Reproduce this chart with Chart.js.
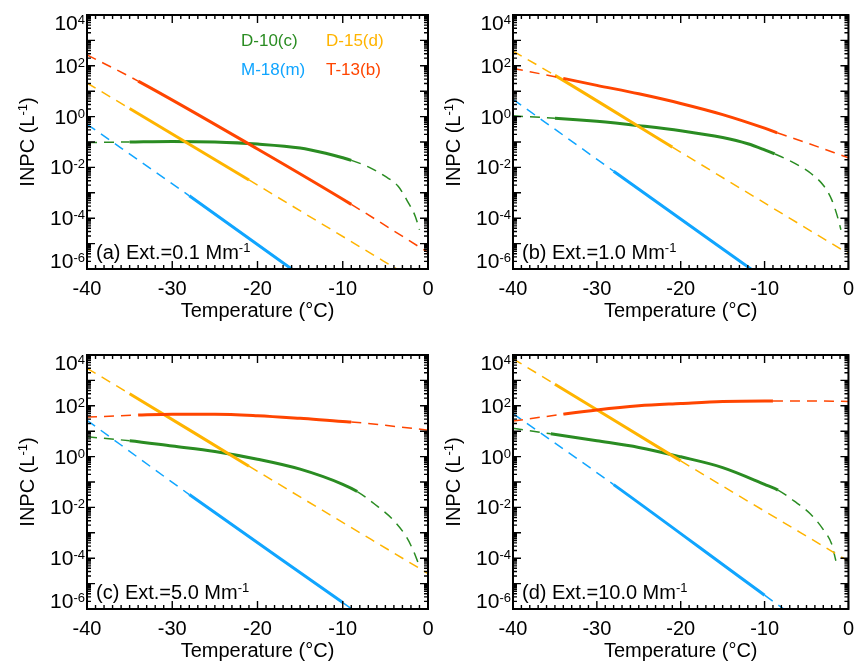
<!DOCTYPE html>
<html><head><meta charset="utf-8">
<script src="https://cdn.jsdelivr.net/npm/chart.js@4.4.1/dist/chart.umd.min.js"></script>
<style>
html,body{margin:0;padding:0;background:#fff;overflow:hidden;width:862px;height:662px;}
canvas{position:absolute;left:0;top:0;}
</style></head><body>
<canvas id="ca" width="862" height="662"></canvas>
<canvas id="cb" width="862" height="662"></canvas>
<canvas id="cc" width="862" height="662"></canvas>
<canvas id="cd" width="862" height="662"></canvas>
<script>
// ---------- data ----------
const xTickValues = [-40, -30, -20, -10, 0];
const yTickExponents = [4, 2, 0, -2, -4, -6];
const seriesNames = ['T-13(b)', 'D-15(d)', 'M-18(m)', 'D-10(c)'];
const panelLabels = ['(a) Ext.=0.1 Mm', '(b) Ext.=1.0 Mm', '(c) Ext.=5.0 Mm', '(d) Ext.=10.0 Mm'];

// Panel (a)  Ext = 0.1 Mm-1
const tA_T13 = [-40, -34, -20, -9, 0];
const nA_T13 = [270, 25, 0.053, 3.5e-4, 4.5e-6];
const sA_T13 = [-34, -9];
const tA_D15 = [-40, -35, -21, 0];
const nA_D15 = [21, 2.1, 3.2e-3, 1.8e-7];
const sA_D15 = [-35, -21];
const tA_M18 = [-40, -28, -16, -15];
const nA_M18 = [0.5, 7.6e-4, 1.0e-6, 5.8e-7];
const sA_M18 = [-28, -15];
const tA_D10 = [-40, -35, -30, -25, -20, -15, -12, -10, -9, -7, -5, -3.5, -2.3, -1.5, -1];
const nA_D10 = [0.095, 0.1, 0.105, 0.1, 0.083, 0.058, 0.036, 0.024, 0.019, 0.0105, 4.4e-3, 1.8e-3, 4.0e-4, 1.2e-4, 3.5e-5];
const sA_D10 = [-35, -9];

// Panel (b)  Ext = 1.0 Mm-1
const tB_T13 = [-40, -34, -30, -25, -20, -15, -10, -8.5, -5, 0];
const nB_T13 = [79, 32, 17, 7.9, 3.3, 1.2, 0.35, 0.23, 0.093, 0.024];
const sB_T13 = [-34, -8.5];
const tB_D15 = [-40, -35, -21, 0];
const nB_D15 = [380, 42, 0.063, 4.0e-6];
const sB_D15 = [-35, -21];
const tB_M18 = [-40, -28, -11];
const nB_M18 = [4.8, 7.1e-3, 7.1e-7];
const sB_M18 = [-28, -11];
const tB_D10 = [-40, -35, -30, -25, -20, -15, -12, -10, -8.8, -6.5, -4.5, -2.9, -2, -1.2, -0.9];
const nB_D10 = [1.07, 0.87, 0.65, 0.44, 0.28, 0.15, 0.085, 0.049, 0.034, 0.015, 5.9e-3, 1.8e-3, 5.4e-4, 8.7e-5, 3.5e-5];
const sB_D10 = [-35, -8.8];

// Panel (c)  Ext = 5.0 Mm-1
const tC_T13 = [-40, -34, -30, -25, -20, -15, -10, -9, -5, 0];
const nC_T13 = [36, 43, 47, 47, 41, 32, 24, 23, 17, 11];
const sC_T13 = [-34, -9];
const tC_D15 = [-40, -35, -21, 0];
const nC_D15 = [3000, 300, 0.42, 2.5e-5];
const sC_D15 = [-35, -21];
const tC_M18 = [-40, -28, -10, -8];
const nC_M18 = [27, 0.032, 1.8e-6, 6.0e-7];
const sC_M18 = [-28, -10];
const tC_D10 = [-40, -35, -30, -25, -20, -15, -10, -8.3, -6.2, -4, -2.5, -1.7, -1.1];
const nC_D10 = [6.0, 4.2, 2.6, 1.6, 0.79, 0.32, 0.081, 0.042, 0.013, 3.0e-3, 6.6e-4, 1.9e-4, 5.9e-5];
const sC_D10 = [-35, -8.3];

// Panel (d)  Ext = 10.0 Mm-1
const tD_T13 = [-40, -34, -30, -25, -20, -15, -10, -9, -5, 0];
const nD_T13 = [25, 47, 69, 100, 123, 148, 155, 155, 155, 148];
const sD_T13 = [-34, -9];
const tD_D15 = [-40, -35, -20, 0];
const nD_D15 = [7100, 710, 0.68, 7.6e-5];
const sD_D15 = [-35, -20];
const tD_M18 = [-40, -28, -10, -7.5];
const nD_M18 = [49, 0.079, 3.5e-6, 8.9e-7];
const sD_M18 = [-28, -10];
const tD_D10 = [-40, -35.5, -30, -25, -20, -15, -10, -8.4, -6.5, -4.5, -2.9, -2, -1.5];
const nD_D10 = [13, 7.9, 4.2, 2.3, 0.98, 0.37, 0.081, 0.048, 0.018, 5.4e-3, 1.2e-3, 3.6e-4, 7.9e-5];
const sD_D10 = [-35.5, -8.4];

// ---------- styling ----------
const COLORS = {'T-13(b)': '#FF4500', 'D-15(d)': '#FFB400', 'M-18(m)': '#10A5FF', 'D-10(c)': '#2A8C22'};
const FAMILY = '"Liberation Sans", Arial, Helvetica, sans-serif';

function fontStr(size) { return size + 'px ' + FAMILY; }

function drawParts(ctx, x, baseline, parts, align, size, supSize, rise) {
  let total = 0;
  const widths = parts.map(p => {
    ctx.font = fontStr(p.sup ? supSize : size);
    const w = ctx.measureText(p.t).width;
    total += w;
    return w;
  });
  let cx = align === 'right' ? x - total : (align === 'center' ? x - total / 2 : x);
  ctx.textAlign = 'left';
  ctx.textBaseline = 'alphabetic';
  parts.forEach((p, i) => {
    ctx.font = fontStr(p.sup ? supSize : size);
    ctx.fillText(p.t, cx, p.sup ? baseline - rise : baseline);
    cx += widths[i];
  });
}

const decoPlugin = {
  id: 'deco',
  afterDraw(chart, args, opts) {
    const ctx = chart.ctx, ca = chart.chartArea;
    const xs = chart.scales.x, ys = chart.scales.y;
    ctx.save();
    ctx.strokeStyle = '#000';
    ctx.fillStyle = '#000';
    // inward ticks
    ctx.lineWidth = 1.4;
    ctx.beginPath();
    for (let t = -40; t <= 0; t++) {
      const px = xs.getPixelForValue(t);
      const len = (t % 10 === 0) ? 8 : 4;
      ctx.moveTo(px, ca.bottom); ctx.lineTo(px, ca.bottom - len);
      ctx.moveTo(px, ca.top); ctx.lineTo(px, ca.top + len);
    }
    for (let e = -6; e <= 4; e++) {
      for (let k = 1; k <= 9; k++) {
        if (e === 4 && k > 1) break;
        const py = ys.getPixelForValue(k * Math.pow(10, e));
        const len = k === 1 ? 8 : 4;
        ctx.moveTo(ca.left, py); ctx.lineTo(ca.left + len, py);
        ctx.moveTo(ca.right, py); ctx.lineTo(ca.right - len, py);
      }
    }
    ctx.stroke();
    // frame
    ctx.lineWidth = 2;
    ctx.strokeRect(ca.left, ca.top, ca.right - ca.left, ca.bottom - ca.top);

    // y tick labels  10^e
    yTickExponents.forEach(e => {
      const py = ys.getPixelForValue(Math.pow(10, e));
      const yc = Math.min(Math.max(py, ca.top + 8), ca.bottom - 8);
      drawParts(ctx, ca.left - 2, yc + 7, [{t: '10'}, {t: String(e), sup: true}], 'right', 21, 13, 6);
    });

    // y axis title (rotated)
    ctx.save();
    ctx.translate(ca.left - 53, (ca.top + ca.bottom) / 2);
    ctx.rotate(-Math.PI / 2);
    drawParts(ctx, 0, 0, [{t: 'INPC (L'}, {t: '-1', sup: true}, {t: ')'}], 'center', 20, 13, 7);
    ctx.restore();

    // panel label
    drawParts(ctx, ca.left + 9, ca.bottom - 10, [{t: opts.label}, {t: '-1', sup: true}], 'left', 20, 13, 7);

    // legend text (panel a only)
    if (opts.legend) {
      const rows = [
        ['D-10(c)', 154, 31], ['D-15(d)', 239, 31],
        ['M-18(m)', 154, 60], ['T-13(b)', 239, 60]
      ];
      rows.forEach(r => {
        ctx.fillStyle = COLORS[r[0]];
        ctx.font = fontStr(17);
        ctx.textAlign = 'left';
        ctx.textBaseline = 'alphabetic';
        ctx.fillText(r[0], ca.left + r[1], ca.top + r[2]);
      });
    }
    ctx.restore();
  }
};

function makeDataset(name, temps, vals, solid) {
  const isSolid = c => c.p0.parsed.x >= solid[0] - 1e-6 && c.p1.parsed.x <= solid[1] + 1e-6;
  return {
    label: name,
    data: temps.map((t, i) => ({x: t, y: vals[i]})),
    borderColor: COLORS[name],
    backgroundColor: COLORS[name],
    borderWidth: 3,
    pointRadius: 0,
    fill: false,
    cubicInterpolationMode: 'monotone',
    borderCapStyle: 'butt',
    segment: {
      borderDash: c => isSolid(c) ? [] : [10, 7],
      borderWidth: c => isSolid(c) ? 3 : 1.5
    }
  };
}

function makeChart(id, pad, xHeight, titlePadBottom, datasets, label, legend) {
  new Chart(document.getElementById(id), {
    type: 'line',
    data: {datasets},
    plugins: [decoPlugin],
    options: {
      responsive: false,
      animation: false,
      devicePixelRatio: 1,
      layout: {padding: pad},
      plugins: {
        legend: {display: false},
        tooltip: {enabled: false},
        deco: {label, legend}
      },
      scales: {
        x: {
          type: 'linear', min: -40, max: 0,
          afterBuildTicks: s => { s.ticks = xTickValues.map(v => ({value: v})); },
          afterFit: s => { s.height = xHeight; },
          grid: {display: false, drawTicks: false},
          border: {display: false},
          ticks: {
            color: '#000', padding: 8, maxRotation: 0, autoSkip: false,
            font: {family: FAMILY, size: 20, lineHeight: 1.2},
            callback: v => String(v)
          },
          title: {
            display: true, text: 'Temperature (°C)', color: '#000',
            font: {family: FAMILY, size: 20, lineHeight: 1},
            padding: {top: 0, bottom: titlePadBottom}
          }
        },
        y: {
          type: 'logarithmic', min: 1e-6, max: 1e4,
          afterFit: s => { s.width = 87; },
          grid: {display: false, drawTicks: false},
          border: {display: false},
          ticks: {display: false}
        }
      }
    }
  });
}

makeChart('ca', {left: 0, top: 15, right: 434, bottom: 331}, 62, 10, [
  makeDataset('T-13(b)', tA_T13, nA_T13, sA_T13),
  makeDataset('D-15(d)', tA_D15, nA_D15, sA_D15),
  makeDataset('M-18(m)', tA_M18, nA_M18, sA_M18),
  makeDataset('D-10(c)', tA_D10, nA_D10, sA_D10)
], panelLabels[0], true);

makeChart('cb', {left: 426, top: 15, right: 9, bottom: 331}, 62, 10, [
  makeDataset('T-13(b)', tB_T13, nB_T13, sB_T13),
  makeDataset('D-15(d)', tB_D15, nB_D15, sB_D15),
  makeDataset('M-18(m)', tB_M18, nB_M18, sB_M18),
  makeDataset('D-10(c)', tB_D10, nB_D10, sB_D10)
], panelLabels[1], false);

makeChart('cc', {left: 0, top: 355, right: 434, bottom: 0}, 53, 1, [
  makeDataset('T-13(b)', tC_T13, nC_T13, sC_T13),
  makeDataset('D-15(d)', tC_D15, nC_D15, sC_D15),
  makeDataset('M-18(m)', tC_M18, nC_M18, sC_M18),
  makeDataset('D-10(c)', tC_D10, nC_D10, sC_D10)
], panelLabels[2], false);

makeChart('cd', {left: 426, top: 355, right: 9, bottom: 0}, 53, 1, [
  makeDataset('T-13(b)', tD_T13, nD_T13, sD_T13),
  makeDataset('D-15(d)', tD_D15, nD_D15, sD_D15),
  makeDataset('M-18(m)', tD_M18, nD_M18, sD_M18),
  makeDataset('D-10(c)', tD_D10, nD_D10, sD_D10)
], panelLabels[3], false);
</script>
</body></html>
